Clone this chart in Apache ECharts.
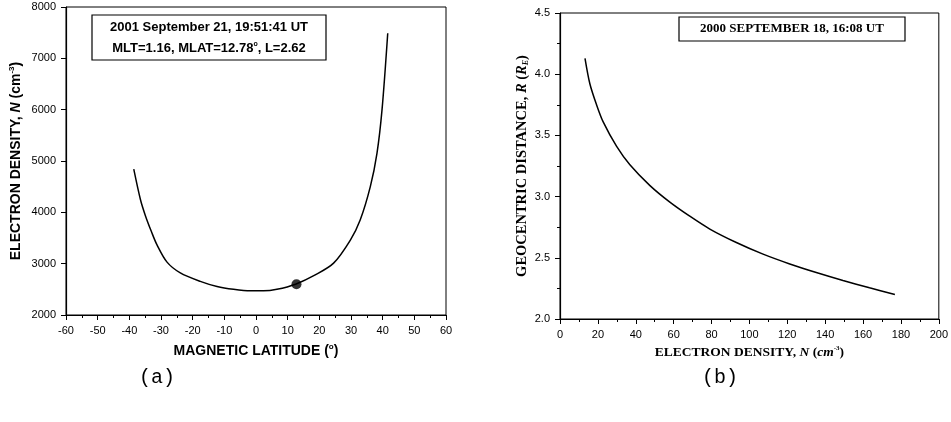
<!DOCTYPE html>
<html>
<head>
<meta charset="utf-8">
<script src="https://cdn.jsdelivr.net/npm/echarts@6/dist/echarts.min.js"></script>
<style>
html,body{margin:0;padding:0;background:#fff;}
#c{width:951px;height:422px;}
</style>
</head>
<body>
<div id="c"></div>
<script>
// Panel (a): electron density vs magnetic latitude
var latA = [-38.6, -36.5, -34.9, -33, -31.3, -28.1, -23.9, -17.6, -12.3, -7.1, -1.8, 2.4, 6.6, 12.5, 18.7, 24.5, 29.8, 32.9, 36.1, 38.2, 39.8, 41.6];
var densA = [4840, 4250, 3930, 3620, 3370, 3030, 2820, 2655, 2555, 2500, 2470, 2470, 2500, 2600, 2780, 3010, 3460, 3850, 4500, 5150, 6000, 7490];
var markA = [[12.78, 2600]];
var xTicksA = [-60, -50, -40, -30, -20, -10, 0, 10, 20, 30, 40, 50, 60];
var yTicksA = [2000, 3000, 4000, 5000, 6000, 7000, 8000];

// Panel (b): geocentric distance vs electron density
var densB = [13.2, 15.8, 19.3, 22.8, 29.9, 36.9, 47.5, 58, 68.5, 79.1, 93.1, 107.2, 121.3, 135.3, 149.4, 163.4, 176.8];
var distB = [4.13, 3.92, 3.75, 3.61, 3.41, 3.26, 3.09, 2.955, 2.84, 2.735, 2.625, 2.53, 2.45, 2.38, 2.315, 2.255, 2.20];
var xTicksB = [0, 20, 40, 60, 80, 100, 120, 140, 160, 180, 200];
var yTicksB = [2.0, 2.5, 3.0, 3.5, 4.0, 4.5];

var titleA1 = '2001 September 21, 19:51:41 UT';
var titleB = '2000 SEPTEMBER 18, 16:08 UT';

function pairs(xs, ys){ return xs.map(function(x,i){return [x, ys[i]];}); }

var chart = echarts.init(document.getElementById('c'), null, {renderer:'canvas'});
var sans = 'Liberation Sans, Arial, sans-serif';
var serif = 'Liberation Serif, Times New Roman, serif';

function axisCommon(){
  return {
    axisLine:{show:true, onZero:false, lineStyle:{color:'#000', width:1.2}},
    axisTick:{show:true, inside:false, length:5, lineStyle:{color:'#000'}},
    splitLine:{show:false},
    axisLabel:{color:'#000', fontSize:11, fontFamily:sans, margin:10}
  };
}

var option = {
  animation:false,
  backgroundColor:'#fff',
  grid:[
    {left:66, top:7, width:380, height:308, show:true, borderColor:'#000', borderWidth:1},
    {left:560, top:13, width:379, height:306, show:true, borderColor:'#000', borderWidth:1}
  ],
  xAxis:[
    Object.assign(axisCommon(), {
      gridIndex:0, type:'value', min:xTicksA[0], max:xTicksA[xTicksA.length-1], interval:10,
      minorTick:{show:true, splitNumber:2, length:3, lineStyle:{color:'#000'}},
      name:'MAGNETIC LATITUDE ({s|o})', nameLocation:'middle', nameGap:28,
      nameTextStyle:{color:'#000', fontSize:14, fontWeight:'bold', fontFamily:sans,
        rich:{s:{fontSize:8, fontWeight:'bold', fontFamily:sans, color:'#000', verticalAlign:'top', padding:[0,0,8,0]}}}
    }),
    Object.assign(axisCommon(), {
      gridIndex:1, type:'value', min:xTicksB[0], max:xTicksB[xTicksB.length-1], interval:20,
      minorTick:{show:true, splitNumber:2, length:3, lineStyle:{color:'#000'}},
      name:'ELECTRON DENSITY, {i|N} ({i|cm}{s|-3})', nameLocation:'middle', nameGap:26,
      nameTextStyle:{color:'#000', fontSize:13.5, fontWeight:'bold', fontFamily:serif,
        rich:{i:{fontSize:13.5, fontWeight:'bold', fontStyle:'italic', fontFamily:serif, color:'#000'},
              s:{fontSize:7, fontWeight:'bold', fontFamily:serif, color:'#000', verticalAlign:'top', padding:[0,0,8,0]}}}
    })
  ],
  yAxis:[
    Object.assign(axisCommon(), {
      gridIndex:0, type:'value', min:yTicksA[0], max:yTicksA[yTicksA.length-1], interval:1000,
      axisLabel:{color:'#000', fontSize:11, fontFamily:sans, margin:10, formatter:function(v){return String(v);}},
      name:'ELECTRON DENSITY, {i|N} (cm{s|-3})', nameLocation:'middle', nameGap:42, nameRotate:90,
      nameTextStyle:{color:'#000', fontSize:14, fontWeight:'bold', fontFamily:sans,
        rich:{i:{fontSize:14, fontWeight:'bold', fontStyle:'italic', fontFamily:sans, color:'#000'},
              s:{fontSize:8, fontWeight:'bold', fontFamily:sans, color:'#000', verticalAlign:'top', padding:[0,0,8,0]}}}
    }),
    Object.assign(axisCommon(), {
      gridIndex:1, type:'value', min:yTicksB[0], max:yTicksB[yTicksB.length-1], interval:0.5,
      minorTick:{show:true, splitNumber:2, length:3, lineStyle:{color:'#000'}},
      axisLabel:{color:'#000', fontSize:11, fontFamily:sans, margin:10, formatter:function(v){return v.toFixed(1);}},
      name:'GEOCENTRIC DISTANCE, {i|R} ({i|R}{sub|E})', nameLocation:'middle', nameGap:30, nameRotate:90,
      nameTextStyle:{color:'#000', fontSize:14.5, fontWeight:'bold', fontFamily:serif,
        rich:{i:{fontSize:14.5, fontWeight:'bold', fontStyle:'italic', fontFamily:serif, color:'#000'},
              sub:{fontSize:8, fontWeight:'bold', fontStyle:'italic', fontFamily:serif, color:'#000', verticalAlign:'bottom', padding:[6,0,0,0]}}}
    })
  ],
  series:[
    {type:'line', xAxisIndex:0, yAxisIndex:0, data:pairs(latA, densA), smooth:0.3, showSymbol:false,
      lineStyle:{color:'#000', width:1.5}, z:3},
    {type:'scatter', xAxisIndex:0, yAxisIndex:0, data:markA, symbol:'circle', symbolSize:10,
      itemStyle:{color:'#000'}, z:4},
    {type:'line', xAxisIndex:1, yAxisIndex:1, data:pairs(densB, distB), smooth:0.3, showSymbol:false,
      lineStyle:{color:'#000', width:1.5}, z:3}
  ],
  graphic:[
    {type:'rect', shape:{x:92, y:15, width:234, height:45}, style:{fill:'#fff', stroke:'#000', lineWidth:1.2}, z:10},
    {type:'text', x:209, y:27, z:11, style:{text:titleA1, fill:'#000', font:'bold 13px '+sans, textAlign:'center', textVerticalAlign:'middle'}},
    {type:'text', x:209, y:48, z:11, style:{
      text:'MLT=1.16, MLAT=12.78{s|o}, L=2.62', fill:'#000', font:'bold 13px '+sans, textAlign:'center', textVerticalAlign:'middle',
      rich:{s:{fontSize:7, fontWeight:'bold', fontFamily:sans, fill:'#000', verticalAlign:'top', padding:[0,0,8,0]}}}},
    {type:'rect', shape:{x:679, y:17, width:226, height:24}, style:{fill:'#fff', stroke:'#000', lineWidth:1.2}, z:10},
    {type:'text', x:792, y:29, z:11, style:{text:titleB, fill:'#000', font:'bold 13px '+serif, textAlign:'center', textVerticalAlign:'middle'}},
    {type:'text', x:157, y:378, z:11, style:{text:'(a)', fill:'#000', font:'20px Liberation Mono, Courier New, monospace', textAlign:'center', textVerticalAlign:'middle'}},
    {type:'text', x:720, y:378, z:11, style:{text:'(b)', fill:'#000', font:'20px Liberation Mono, Courier New, monospace', textAlign:'center', textVerticalAlign:'middle'}}
  ]
};
chart.setOption(option);
</script>
</body>
</html>
